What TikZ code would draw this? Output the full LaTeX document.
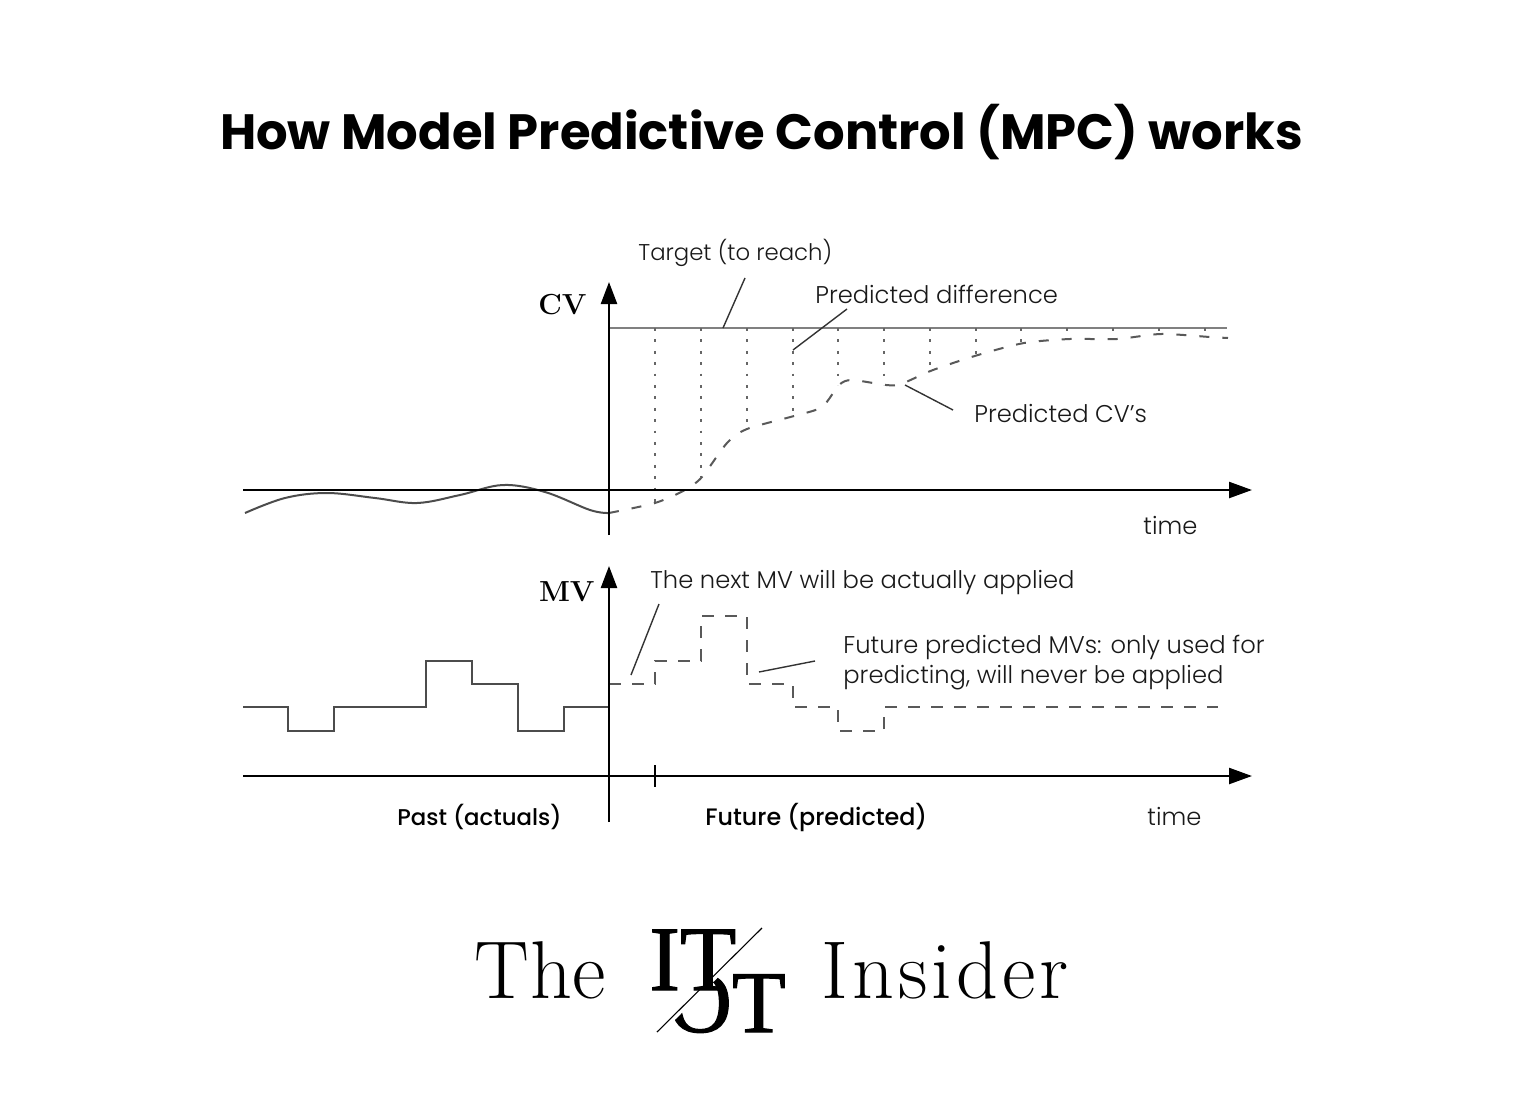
\documentclass[tikz,border=0pt]{standalone}
\usepackage{fontspec}
\usetikzlibrary{arrows.meta}
\setmainfont{Poppins Light}
\newfontfamily\titlefont{Poppins Bold}
\newfontfamily\midfont{Poppins Medium}
\newfontfamily\logofont{Latin Modern Roman}
\newfontfamily\logowidefont[LetterSpace=5]{Latin Modern Roman}
\newfontfamily\logothefont[LetterSpace=1]{Latin Modern Roman}
\newfontfamily\slabfont[FakeBold=1.2]{Liberation Serif}
\tikzset{
	axis/.style={line width=1.2pt,black,-{Triangle[length=11.5pt,width=8pt]}},
	upaxis/.style={line width=1.2pt,black,-{Triangle[length=11pt,width=8pt]}},
	leader/.style={line width=0.7pt,black!80},
	lbl/.style={font=\fontsize{12.1}{14.6}\selectfont,text=black!90,anchor=base west,inner sep=0pt,align=left},
	actual/.style={line width=1pt,black!70},
	predicted/.style={line width=1pt,black!65,dash pattern=on 5pt off 6.5pt},
	diff/.style={line width=0.9pt,black!60,dash pattern=on 1.4pt off 4.3pt},
}
\begin{document}
\begin{tikzpicture}[x=0.5pt,y=-0.5pt]
	\useasboundingbox (0,0) rectangle (1516,1108);
	\node[font=\titlefont\fontsize{24.8}{30}\selectfont,anchor=base,inner sep=0pt] (title) at (761.5,149) {How Model Predictive Control (MPC) works};
	% top chart
	\coordinate (O1) at (609,490);
	\coordinate (X1s) at (243,490);
	\coordinate (X1e) at (1252,490);
	\coordinate (Y1s) at (609,535);
	\coordinate (Y1e) at (609,282);
	\coordinate (T1) at (609,328);
	\coordinate (T2) at (1227,328);
	\draw [line width=1.4pt,black!50] (T1) to (T2);
	\draw [diff] (655,328) to (655,502);
	\draw [diff] (701,328) to (701,477);
	\draw [diff] (747,328) to (747,429);
	\draw [diff] (793,328) to (793,416);
	\draw [diff] (838,328) to (838,385);
	\draw [diff] (884,328) to (884,385);
	\draw [diff] (930,328) to (930,371);
	\draw [diff] (976,328) to (976,355);
	\draw [diff] (1021,328) to (1021,344);
	\draw [diff] (1067,328) to (1067,339);
	\draw [diff] (1113,328) to (1113,339);
	\draw [diff] (1159,328) to (1159,334);
	\draw [diff] (1205,328) to (1205,337);
	\draw [actual] plot[smooth,tension=0.6] coordinates {(245,513) (285,498) (327,493) (375,498) (417,503) (460,495) (503,485) (545,492) (590,510) (609,513)};
	\draw [predicted] plot[smooth,tension=0.45] coordinates {(609,513) (655,503) (685,490) (702,477) (727,443) (747,429) (794,416) (822,407) (839,385) (852,380) (886,385) (901,384) (933,370) (978,355) (1024,343) (1070,339) (1117,339) (1161,334) (1210,337) (1228,338)};
	\draw [axis] (X1s) to (X1e);
	\draw [upaxis] (Y1s) to (Y1e);
	% bottom chart
	\coordinate (X2s) at (243,776);
	\coordinate (X2e) at (1252,776);
	\coordinate (Y2s) at (609,822);
	\coordinate (Y2e) at (609,566);
	\draw [actual] (243,707) -| (288,731) -| (334,707) -| (426,661) -| (472,684) -| (518,731) -| (564,707) -- (609,707);
	\draw [predicted,dash pattern=on 6pt off 5.5pt] (609,684) -| (655,661) -| (701,616) -| (747,684) -| (793,707) -| (838,731) -| (884,707) -- (1218,707);
	\draw [axis] (X2s) to (X2e);
	\draw [upaxis] (Y2s) to (Y2e);
	\draw [line width=0.8pt] (655,765) to (655,787);
	% labels
	\node[lbl,font=\fontsize{11.4}{14.6}\selectfont] (target) at (638,260) {Target (to reach)};
	\node[lbl] (diffl) at (815,303) {Predicted difference};
	\node[lbl] (cvs) at (974,422) {Predicted CV’s};
	\node[lbl] (time1) at (1143,534) {time};
	\node[lbl] (next) at (650,588) {The next MV will be actually applied};
	\node[lbl] (futmv) at (843,683) {Future predicted MVs: only used for\\predicting, will never be applied};
	\node[lbl,font=\midfont\fontsize{11.4}{14.6}\selectfont,text=black] (past) at (397,825) {Past (actuals)};
	\node[lbl,font=\midfont\fontsize{11.9}{14.6}\selectfont,text=black] (future) at (705,825) {Future (predicted)};
	\node[lbl] (time2) at (1147,825) {time};
	\node[font=\logofont\bfseries\fontsize{14.5}{16}\selectfont,anchor=base east,inner sep=0pt] (cv) at (587,314) {CV};
	\node[font=\logofont\bfseries\fontsize{14.5}{16}\selectfont,anchor=base east,inner sep=0pt] (mv) at (595,601) {MV};
	% leaders
	\coordinate (L1a) at (745,278);
	\coordinate (L1b) at (723,328);
	\coordinate (L2a) at (847,309);
	\coordinate (L2b) at (793,350);
	\coordinate (L3a) at (953,410);
	\coordinate (L3b) at (905,385);
	\coordinate (L4a) at (659,604);
	\coordinate (L4b) at (631,675);
	\coordinate (L5a) at (815,661);
	\coordinate (L5b) at (759,672);
	\draw [leader] (L1a) to (L1b);
	\draw [leader] (L2a) to (L2b);
	\draw [leader] (L3a) to (L3b);
	\draw [leader] (L4a) to (L4b);
	\draw [leader] (L5a) to (L5b);
	% logo
	\node[font=\logothefont\fontsize{41}{42}\selectfont,anchor=base west,inner sep=0pt] (the) at (474,998) {The};
	\node[font=\logowidefont\fontsize{41}{42}\selectfont,anchor=base west,inner sep=0pt] (insider) at (821,998) {Insider};
	\node[font=\slabfont\fontsize{46}{48}\selectfont,anchor=base west,inner sep=0pt] (it) at (649,990) {IT};
	\begin{scope}
		\clip (768,928) -- (663,1032) -- (800,1045) -- (800,928) -- cycle;
		\node[font=\slabfont\fontsize{44}{48}\selectfont,anchor=base west,inner sep=0pt] (ot) at (668,1032) {OT};
	\end{scope}
	\coordinate (S1) at (762,928);
	\coordinate (S2) at (657,1032);
	\draw [line width=0.55pt] (S1) to (S2);
\end{tikzpicture}
\end{document}
